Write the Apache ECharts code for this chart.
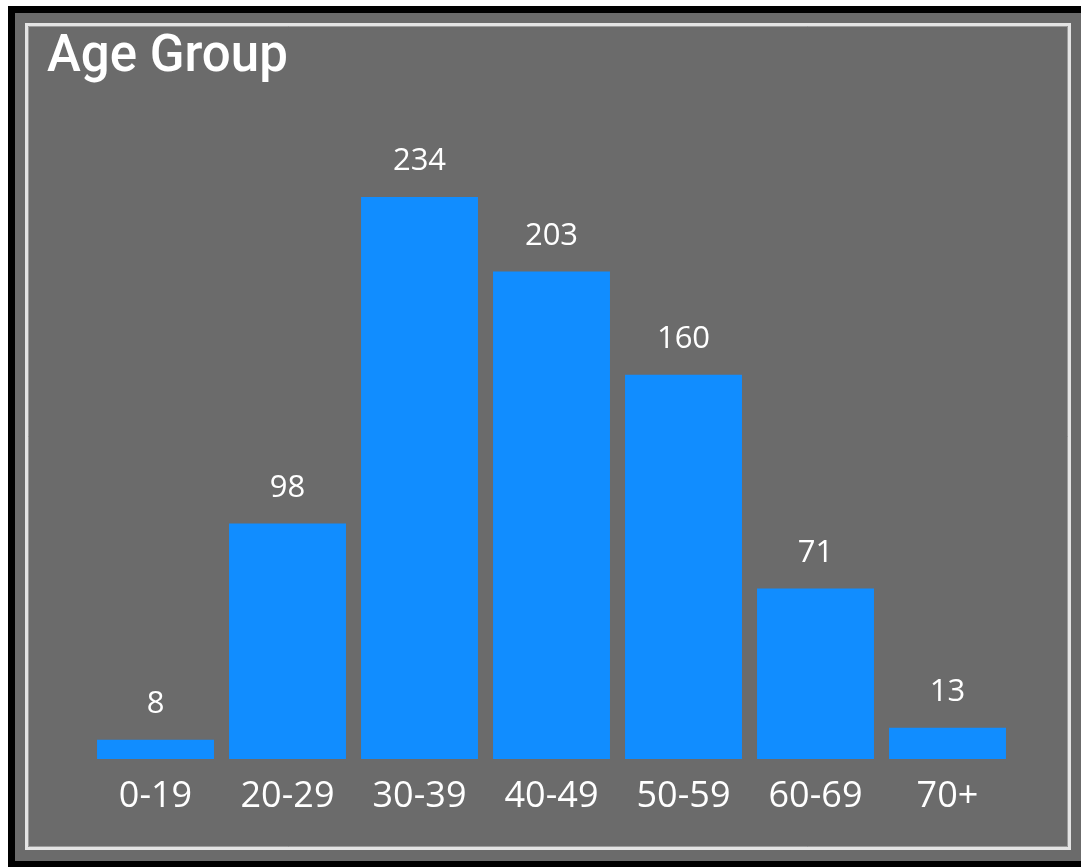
<!DOCTYPE html>
<html>
<head>
<meta charset="utf-8">
<title>Age Group</title>
<script src="https://cdn.jsdelivr.net/npm/echarts@6/dist/echarts.min.js"></script>
<style>
  html, body { margin: 0; padding: 0; background: #ffffff; }
  #chart { width: 1081px; height: 867px; }
</style>
</head>
<body>
<div id="chart"></div>
<script>
// Age brackets and the head count in each
const ageGroups = ['0-19', '20-29', '30-39', '40-49', '50-59', '60-69', '70+'];
const counts = [8, 98, 234, 203, 160, 71, 13];

const chart = echarts.init(document.getElementById('chart'), null, { renderer: 'canvas' });

chart.setOption({
  backgroundColor: '#ffffff',
  animation: false,
  graphic: {
    elements: [
      // black card frame
      { type: 'rect', z: -10, silent: true,
        shape: { x: 8, y: 6, width: 1200, height: 1000 },
        style: { fill: '#000000' } },
      // grey card body
      { type: 'rect', z: -9, silent: true,
        shape: { x: 15, y: 13, width: 1200, height: 848 },
        style: { fill: '#6b6b6b' } },
      // light inner border
      { type: 'rect', z: -8, silent: true,
        shape: { x: 26.5, y: 24.5, width: 1043, height: 824 },
        style: { fill: 'none', stroke: '#e4e4e4', lineWidth: 3 } },
      { type: 'rect', z: -7, silent: true,
        shape: { x: 28.5, y: 26.5, width: 1039, height: 820 },
        style: { fill: 'none', stroke: '#9c9c9c', lineWidth: 1 } }
    ]
  },
  title: {
    text: 'Age Group',
    left: 42,
    top: 28,
    textStyle: {
      color: '#ffffff',
      fontFamily: 'Roboto',
      fontWeight: 500,
      fontSize: 51
    }
  },
  grid: {
    left: 89.5,
    right: 1081 - 1013.5,
    top: 158.5,
    bottom: 867 - 759,
    containLabel: false
  },
  xAxis: {
    type: 'category',
    data: ageGroups,
    axisLine: { show: false },
    axisTick: { show: false },
    splitLine: { show: false },
    axisLabel: {
      color: '#ffffff',
      fontFamily: 'Open Sans',
      fontSize: 36,
      margin: 20
    }
  },
  yAxis: {
    type: 'value',
    min: 0,
    max: 250,
    show: false,
    splitLine: { show: false }
  },
  series: [{
    type: 'bar',
    data: counts,
    barCategoryGap: '11.4%',
    itemStyle: { color: '#118DFF' },
    label: {
      show: true,
      position: 'top',
      distance: 20,
      color: '#ffffff',
      fontFamily: 'Open Sans',
      fontSize: 31
    }
  }]
});
</script>
</body>
</html>
